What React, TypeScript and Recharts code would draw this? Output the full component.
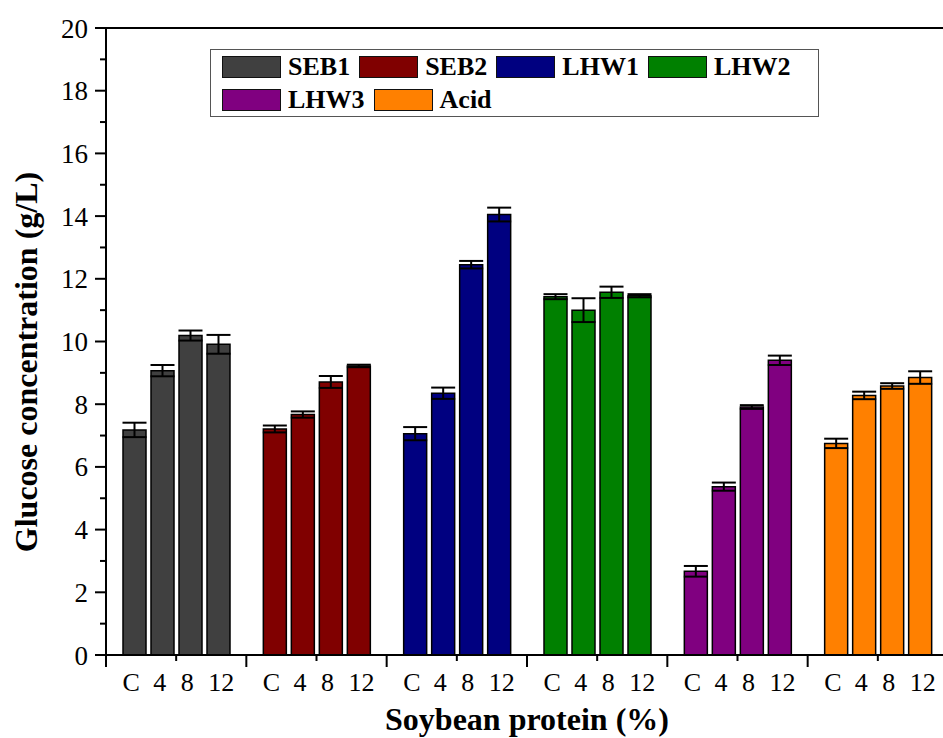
import React from 'react'
import { BarChart, Bar, XAxis, YAxis, ErrorBar, Cell, Legend, ReferenceLine } from 'recharts'

const groups = ['SEB1', 'SEB2', 'LHW1', 'LHW2', 'LHW3', 'Acid']
const groupColors = ['#404040', '#800000', '#000080', '#008000', '#800080', '#FF8000']
const levels = ['C', '4', '8', '12']

const meanC = [7.18, 7.21, 7.06, 11.43, 2.67, 6.75]
const errC = [0.23, 0.11, 0.21, 0.08, 0.17, 0.15]
const mean4 = [9.07, 7.67, 8.35, 11.0, 5.37, 8.28]
const err4 = [0.18, 0.1, 0.18, 0.38, 0.13, 0.12]
const mean8 = [10.19, 8.71, 12.45, 11.57, 7.91, 8.58]
const err8 = [0.16, 0.19, 0.12, 0.18, 0.06, 0.09]
const mean12 = [9.91, 9.22, 14.05, 11.46, 9.4, 8.85]
const err12 = [0.3, 0.04, 0.22, 0.05, 0.15, 0.2]

const yTicks = [0, 1, 2, 3, 4, 5, 6, 7, 8, 9, 10, 11, 12, 13, 14, 15, 16, 17, 18, 19, 20]

const data = groups.map((g, i) => ({
  group: g,
  c: meanC[i], ec: errC[i],
  p4: mean4[i], e4: err4[i],
  p8: mean8[i], e8: err8[i],
  p12: mean12[i], e12: err12[i],
}))

const series = [
  { key: 'c', err: 'ec' },
  { key: 'p4', err: 'e4' },
  { key: 'p8', err: 'e8' },
  { key: 'p12', err: 'e12' },
]

const FONT = '"Liberation Serif", "Times New Roman", serif'
// where the level labels sit relative to the group centre
const labelOffsets = [-45, -16.5, 11, 45]

function XTick(props: any) {
  const { x, y, payload, index } = props
  const half = payload && payload.offset ? payload.offset : 70.2
  return (
    <g>
      <line x1={x} x2={x} y1={y} y2={y + 6} stroke="#000" strokeWidth={2} />
      <line x1={x - half} x2={x - half} y1={y} y2={y + 12} stroke="#000" strokeWidth={2} />
      {index === groups.length - 1 && (
        <line x1={x + half} x2={x + half} y1={y} y2={y + 12} stroke="#000" strokeWidth={2} />
      )}
      {levels.map((l, i) => (
        <text key={l} x={x + labelOffsets[i]} y={y + 36} textAnchor="middle" fontFamily={FONT} fontSize={26} fill="#000">
          {l}
        </text>
      ))}
    </g>
  )
}

function YTick(props: any) {
  const { x, y, payload } = props
  const major = payload.value % 2 === 0
  return (
    <g>
      <line x1={x - (major ? 11 : 6)} x2={x} y1={y} y2={y} stroke="#000" strokeWidth={2} />
      {major && (
        <text x={x - 18} y={y + 9.5} textAnchor="end" fontFamily={FONT} fontSize={27} fill="#000">
          {payload.value}
        </text>
      )}
    </g>
  )
}

function LegendBox() {
  const rows = [groups.slice(0, 4).map((g, i) => i), groups.slice(4).map((g, i) => i + 4)]
  return (
    <div style={{ border: '1px solid #555', background: '#fff', boxSizing: 'border-box', width: 609, height: 68, paddingLeft: 11, fontFamily: FONT }}>
      {rows.map((row, r) => (
        <div key={r} style={{ display: 'flex', alignItems: 'center', height: 33 }}>
          {row.map((i) => (
            <div key={groups[i]} style={{ display: 'flex', alignItems: 'center' }}>
              <div style={{ width: 59, height: 22, background: groupColors[i], border: '1.5px solid #111', boxSizing: 'border-box' }} />
              <span style={{ fontSize: 26, fontWeight: 'bold', lineHeight: 1, marginLeft: 7, marginRight: 9, color: '#000' }}>
                {groups[i]}
              </span>
            </div>
          ))}
        </div>
      ))}
    </div>
  )
}

export default function App() {
  return (
    <div style={{ position: 'fixed', left: 0, top: 0, width: 943, height: 738, overflow: 'hidden', background: '#fff' }}>
      <BarChart
        width={950}
        height={738}
        data={data}
        margin={{ top: 28, right: 2, left: 0, bottom: 0 }}
        barSize={23}
        barGap={5}
      >
        <XAxis
          dataKey="group"
          height={83}
          interval={0}
          tickSize={0}
          tickMargin={0}
          tickLine={false}
          axisLine={{ stroke: '#000', strokeWidth: 2 }}
          tick={<XTick />}
          label={(p: any) => (
            <text x={527} y={730} textAnchor="middle" fontFamily={FONT} fontSize={32} fontWeight="bold" fill="#000">
              Soybean protein (%)
            </text>
          )}
        />
        <YAxis
          type="number"
          domain={[0, 20]}
          ticks={yTicks}
          width={106}
          interval={0}
          tickSize={0}
          tickMargin={0}
          tickLine={false}
          axisLine={{ stroke: '#000', strokeWidth: 2 }}
          tick={<YTick />}
          label={(p: any) => (
            <text x={37} y={362} transform="rotate(-90 37 362)" textAnchor="middle" fontFamily={FONT} fontSize={32} fontWeight="bold" fill="#000">
              Glucose concentration (g/L)
            </text>
          )}
        />
        <ReferenceLine y={20} stroke="#000" strokeWidth={2} />
        <Legend
          layout="horizontal"
          verticalAlign="middle"
          align="center"
          wrapperStyle={{ left: 210, top: 49, width: 609, height: 68 }}
          content={() => <LegendBox />}
        />
        {series.map((s) => (
          <Bar key={s.key} dataKey={s.key} stroke="#000" strokeWidth={1.5} isAnimationActive={false}>
            {data.map((d, i) => (
              <Cell key={i} fill={groupColors[i]} />
            ))}
            <ErrorBar dataKey={s.err} width={12} stroke="#000" strokeWidth={2} direction="y" isAnimationActive={false} />
          </Bar>
        ))}
      </BarChart>
    </div>
  )
}
